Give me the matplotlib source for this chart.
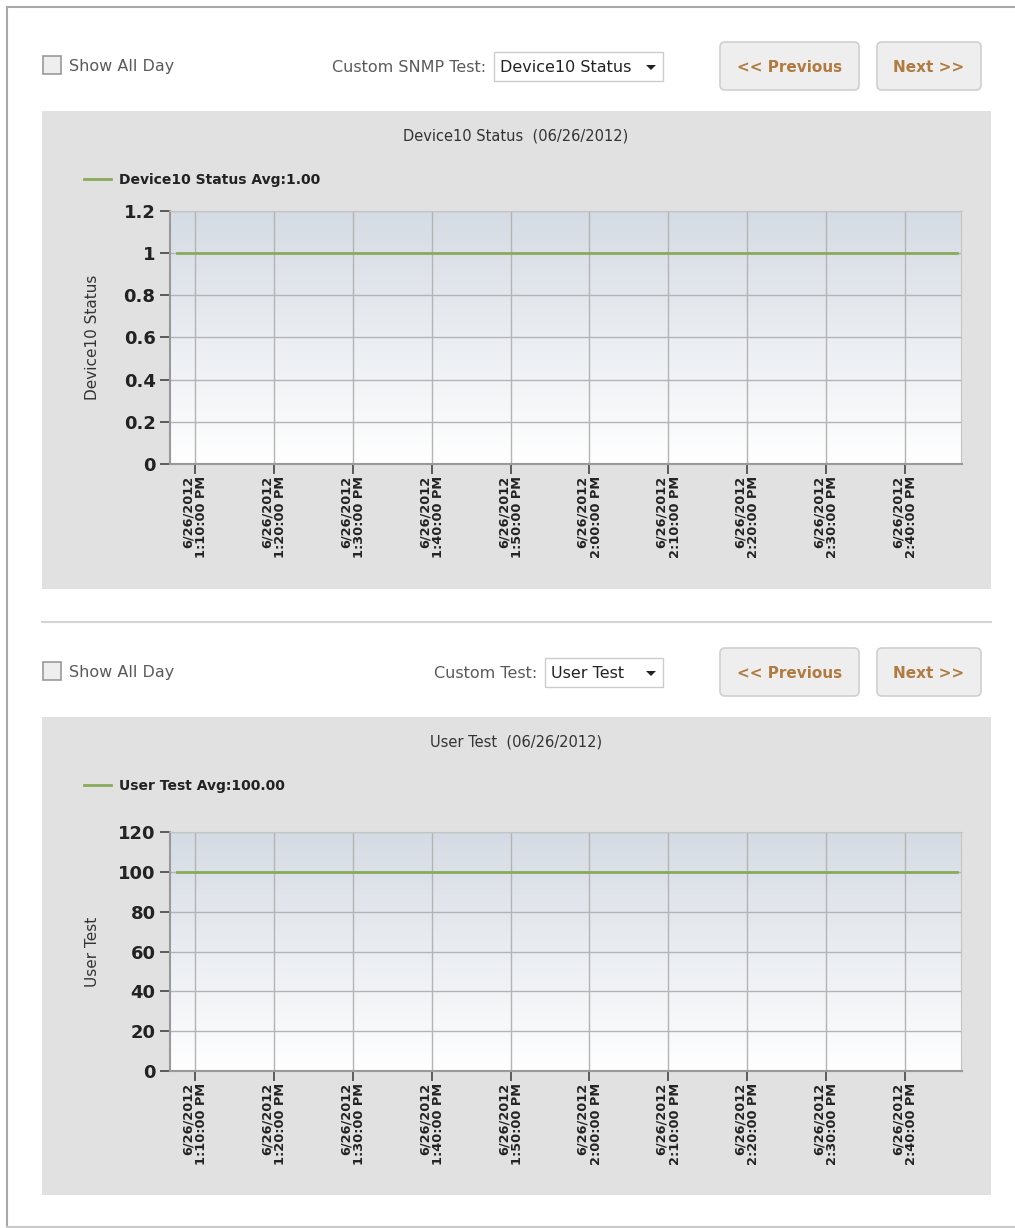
import datetime as dt
import numpy as np
import matplotlib
matplotlib.use("Agg")
import matplotlib.pyplot as plt
import matplotlib.dates as mdates
from matplotlib.patches import Rectangle, FancyBboxPatch, Polygon

# ---------------- data ----------------
day = "2012-06-26"
sample_times = ["13:07:43", "13:17:43", "13:27:43", "13:37:43", "13:47:43", "13:57:43",
                "14:07:43", "14:17:43", "14:27:43", "14:37:43", "14:46:35"]
device10_status = [1.0, 1.0, 1.0, 1.0, 1.0, 1.0, 1.0, 1.0, 1.0, 1.0, 1.0]
user_test = [100, 100, 100, 100, 100, 100, 100, 100, 100, 100, 100]

tick_times = ["13:10", "13:20", "13:30", "13:40", "13:50", "14:00",
              "14:10", "14:20", "14:30", "14:40"]
tick_labels = ["6/26/2012\n1:10:00 PM", "6/26/2012\n1:20:00 PM", "6/26/2012\n1:30:00 PM",
               "6/26/2012\n1:40:00 PM", "6/26/2012\n1:50:00 PM", "6/26/2012\n2:00:00 PM",
               "6/26/2012\n2:10:00 PM", "6/26/2012\n2:20:00 PM", "6/26/2012\n2:30:00 PM",
               "6/26/2012\n2:40:00 PM"]
x_range = ["13:06:46", "14:47:10"]

ticks1 = [0, 0.2, 0.4, 0.6, 0.8, 1, 1.2]
ticks1_lbl = ["0", "0.2", "0.4", "0.6", "0.8", "1", "1.2"]
ticks2 = [0, 20, 40, 60, 80, 100, 120]


def to_dt(s):
    fmt = "%Y-%m-%d %H:%M:%S" if s.count(":") == 2 else "%Y-%m-%d %H:%M"
    return dt.datetime.strptime(day + " " + s, fmt)


W, H = 1015, 1228
fig = plt.figure(figsize=(W / 100, H / 100), dpi=100)
fig.patch.set_facecolor("white")

# background "page" axes in pixel coords
bg = fig.add_axes([0, 0, 1, 1])
bg.set_xlim(0, W)
bg.set_ylim(H, 0)
bg.axis("off")

# page border
bg.plot([7, 7], [7, H], color="#a8a8a8", lw=1.5)
bg.plot([7, W], [7, 7], color="#a8a8a8", lw=1.5)
bg.plot([7, W], [1227, 1227], color="#c8c8c8", lw=1.5)

LBL = "#5a5a5a"
BTN_TXT = "#b07a40"


def controls(y, label, combo_x0, combo_x1, combo_text):
    # checkbox
    bg.add_patch(Rectangle((43, y - 10), 18, 18, facecolor="#eeeeee", edgecolor="#999999", lw=1.2))
    bg.text(69, y, "Show All Day", fontsize=11.5, color=LBL, va="center", ha="left")
    bg.text(combo_x0 - 8, y + 1, label, fontsize=11.5, color=LBL, va="center", ha="right")
    bg.add_patch(Rectangle((combo_x0, y - 14), combo_x1 - combo_x0, 29,
                           facecolor="white", edgecolor="#cccccc", lw=1))
    bg.text(combo_x0 + 6, y + 1, combo_text, fontsize=11.5, color="#222222", va="center", ha="left")
    tx = combo_x1 - 12
    bg.add_patch(Polygon([[tx - 5, y - 1], [tx + 5, y - 1], [tx, y + 4]], closed=True,
                         facecolor="#222222", edgecolor="none"))
    # buttons
    for x0, x1, txt in [(720, 859, "<< Previous"), (877, 981, "Next >>")]:
        bg.add_patch(FancyBboxPatch((x0, y - 24), x1 - x0, 48,
                                    boxstyle="round,pad=0,rounding_size=5",
                                    facecolor="#eeeeee", edgecolor="#cfcfcf", lw=1.2))
        bg.text((x0 + x1) / 2, y + 1, txt, fontsize=11, color=BTN_TXT,
                fontweight="bold", va="center", ha="center")


controls(66, "Custom SNMP Test:", 494, 663, "Device10 Status")
controls(672, "Custom Test:", 545, 663, "User Test")

# separator
bg.plot([42, 991], [622, 622], color="#d4d4d4", lw=1.5)

GREEN = "#8aaa5c"
x0, x1 = mdates.date2num(to_dt(x_range[0])), mdates.date2num(to_dt(x_range[1]))
tpos = [to_dt(t) for t in tick_times]
xs = [to_dt(t) for t in sample_times]

grad = np.linspace(0, 1, 256).reshape(-1, 1)
top_c = np.array([0.835, 0.859, 0.894])
grad_img = top_c + (1 - top_c) * grad
grad_img = grad_img.reshape(256, 1, 3)


def chart(panel_top, ax_top, ax_bot, title, legend, ylabel, vals, yticks, ylabels, ymax):
    bg.add_patch(Rectangle((42, panel_top), 991 - 42, 478, facecolor="#e1e1e1", edgecolor="none"))
    bg.text(516, panel_top + 25, title, fontsize=10.5, color="#333333", ha="center", va="center")
    bg.plot([84, 111], [panel_top + 68, panel_top + 68], color=GREEN, lw=2)
    bg.text(119, panel_top + 69, legend, fontsize=10, fontweight="bold", color="#222222",
            ha="left", va="center")

    ax = fig.add_axes([169.5 / W, 1 - ax_bot / H, (961.5 - 169.5) / W, (ax_bot - ax_top) / H])
    ax.imshow(grad_img, extent=[0, 1, 0, 1], transform=ax.transAxes, aspect="auto", zorder=0)
    ax.plot(xs, vals, color=GREEN, lw=2, zorder=3)
    ax.set_xlim(x0, x1)
    ax.set_ylim(0, ymax)
    ax.set_yticks(yticks)
    ax.set_yticklabels(ylabels, fontsize=13, fontweight="bold", color="#222222")
    ax.set_xticks(tpos)
    ax.set_xticklabels(tick_labels, rotation=90, fontsize=9.3, fontweight="bold",
                       color="#222222", ha="center", va="top", multialignment="right",
                       linespacing=1.05)
    ax.tick_params(axis="both", direction="out", length=7, width=1.2, color="#444444", pad=3)
    ax.tick_params(axis="x", pad=1.5)
    ax.grid(True, color="#b4b4b4", lw=1, zorder=1)
    ax.set_axisbelow(True)
    for s in ["top", "right"]:
        ax.spines[s].set_color("#c4c4c4")
    for s in ["left", "bottom"]:
        ax.spines[s].set_color("#999999")
        ax.spines[s].set_linewidth(1.5)
    ax.set_ylabel(ylabel, fontsize=11, color="#333333")
    ax.yaxis.set_label_coords(-0.088, 0.5)
    return ax


chart(111, 211, 464, "Device10 Status  (06/26/2012)", "Device10 Status Avg:1.00",
      "Device10 Status", device10_status, ticks1, ticks1_lbl, 1.2)
chart(717, 832, 1071, "User Test  (06/26/2012)", "User Test Avg:100.00",
      "User Test", user_test, ticks2, [str(v) for v in ticks2], 120)

fig.savefig("out.png", dpi=100)
